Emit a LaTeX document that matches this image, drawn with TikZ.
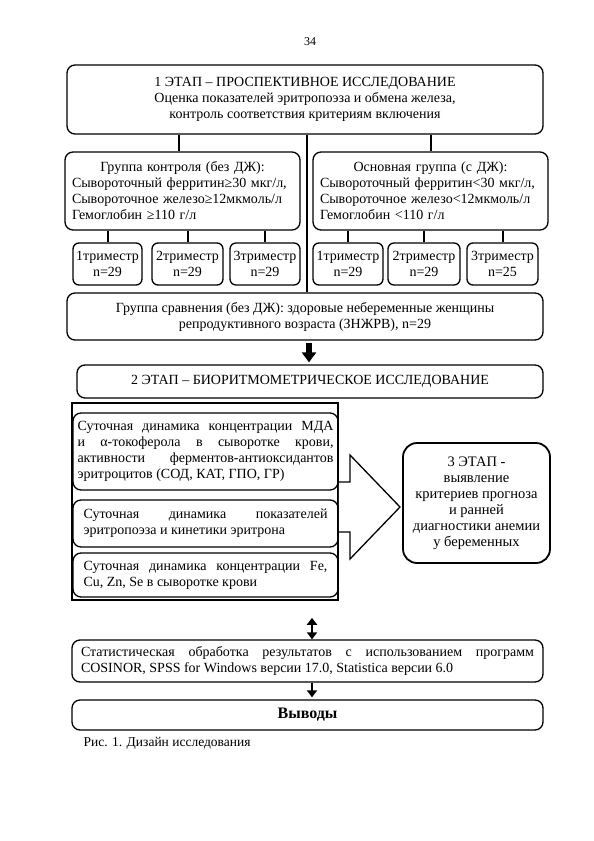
\documentclass[tikz,border=0pt]{standalone}
\usepackage{fontspec}
\setmainfont{Liberation Serif}
\usetikzlibrary{arrows.meta}
\hyphenpenalty=10000
\exhyphenpenalty=10000
\tolerance=10000

\tikzset{
  box/.style={draw, rounded corners=8pt, line width=1.3pt, inner sep=0pt, font=\fontsize{14}{16}\selectfont},
  tri/.style={box, rounded corners=6pt, align=center, minimum height=42},
  link/.style={line width=2pt},
  tip/.style={-{Triangle[width=10pt,length=7pt]}},
}

\begin{document}
\begin{tikzpicture}[x=1pt, y=-1pt]
  \useasboundingbox (0,0) rectangle (594,841);
  \node[font=\fontsize{12}{14}\selectfont] (pg) at (310,42) {34};

  % --- 1 этап ---
  \node[box, minimum width=476, minimum height=69, align=center] (st1) at (305,99.5)
    {1 ЭТАП – ПРОСПЕКТИВНОЕ ИССЛЕДОВАНИЕ\\Оценка показателей эритропоэза и обмена железа,\\контроль соответствия критериям включения};

  % --- группы ---
  \node[box, text width=221, inner xsep=7, minimum height=78, align=left] (ctrl) at (182.5,191)
    {\makebox[\linewidth]{Группа контроля (без ДЖ):}\\Сывороточный ферритин≥30 мкг/л,\\Сывороточное железо≥12мкмоль/л\\Гемоглобин ≥110 г/л};
  \node[box, text width=221, inner xsep=7, minimum height=78, align=left] (basic) at (430.5,191)
    {\makebox[\linewidth]{Основная группа (с ДЖ):}\\Сывороточный ферритин<30 мкг/л,\\Сывороточное железо<12мкмоль/л\\Гемоглобин <110 г/л};

  % --- триместры ---
  \node[tri, minimum width=69] (c1) at (107.5,264) {1триместр\\n=29};
  \node[tri, minimum width=71] (c2) at (187.5,264) {2триместр\\n=29};
  \node[tri, minimum width=70] (c3) at (265,264) {3триместр\\n=29};
  \node[tri, minimum width=70] (b1) at (348,264) {1триместр\\n=29};
  \node[tri, minimum width=72] (b2) at (424,264) {2триместр\\n=29};
  \node[tri, minimum width=71] (b3) at (502.5,264) {3триместр\\n=25};

  \node[box, minimum width=476, minimum height=47, align=center] (cmp) at (305,316.5)
    {Группа сравнения (без ДЖ): здоровые небеременные женщины\\репродуктивного возраста (ЗНЖРВ), n=29};

  \coordinate (mid) at (307,0);
  \draw[link] ([xshift=-4]st1.south -| ctrl.north) -- ([xshift=-4]ctrl.north);
  \draw[link] (st1.south -| mid) -- (cmp.north -| mid);
  \draw[link] (st1.south -| basic.north) -- (basic.north);
  \draw[link] (ctrl.south -| c1) -- (c1.north);
  \draw[link] (ctrl.south -| c2) -- (c2.north);
  \draw[link] (ctrl.south -| c3) -- (c3.north);
  \draw[link] (basic.south -| b1) -- (b1.north);
  \draw[link] (basic.south -| b2) -- (b2.north);
  \draw[link] (basic.south -| b3) -- (b3.north);

  % --- 2 этап ---
  \node[box, minimum width=466, minimum height=33] (st2) at (310,381.5)
    {2 ЭТАП – БИОРИТМОМЕТРИЧЕСКОЕ ИССЛЕДОВАНИЕ};
  \draw[line width=6pt, -{Triangle[width=14pt,length=10pt]}, shorten <=2pt, shorten >=2pt]
    ([xshift=2]cmp.south -| mid) -- ([xshift=2]st2.north -| mid);

  \node[draw, line width=1.6pt, minimum width=266, minimum height=197, inner sep=0pt] (frame) at (205,501.5) {};
  \node[box, rounded corners=14pt, line width=1.8pt, minimum width=147, minimum height=120, align=center,
        font=\fontsize{14.5}{16}\selectfont] (st3) at (476.5,503)
    {3 ЭТАП -\\выявление\\критериев прогноза\\и ранней\\диагностики анемии\\у беременных};
  \coordinate (tip) at (400,507);
  \draw[line width=1.3pt, fill=white] (frame.east |- 0,482) -- (350,482) -- (350,455) -- (tip)
    -- (350,559) -- (350,532) -- (frame.east |- 0,532);

  \node[box, text width=256, inner xsep=4.5, minimum height=77, align=justify] (m1) at (205.5,451.5)
    {Суточная динамика концентрации МДА\linebreak и α-токоферола в сыворотке крови,\linebreak активности ферментов-антиоксидантов\linebreak эритроцитов (СОД, КАТ, ГПО, ГР)};
  \node[box, text width=244, inner xsep=10.5, minimum height=47, align=justify] (m2) at (205.5,523.5)
    {Суточная динамика показателей\linebreak эритропоэза и кинетики эритрона};
  \node[box, text width=244, inner xsep=10.5, minimum height=44, align=justify] (m3) at (205.5,575)
    {Суточная динамика концентрации Fe,\linebreak Cu, Zn, Se в сыворотке крови};

  % --- обработка и выводы ---
  \node[box, text width=453, inner xsep=9, minimum height=42, align=justify] (stat) at (307.5,661)
    {Статистическая обработка результатов с использованием программ\linebreak COSINOR, SPSS for Windows версии 17.0, Statistica версии 6.0};
  \node[box, minimum width=471, minimum height=30, font=\fontsize{16}{18}\selectfont\bfseries] (concl) at (307.5,715) {Выводы};

  \coordinate (ax) at (312,0);
  \draw[line width=2.5pt, {Triangle[width=10pt,length=7pt]}-{Triangle[width=10pt,length=7pt]}, shorten <=17pt, shorten >=0pt]
    (frame.south -| ax) -- (stat.north -| ax);
  \draw[line width=2.5pt, tip, shorten >=2pt] (stat.south -| ax) -- (concl.north -| ax);

  \node[anchor=west, font=\fontsize{13.5}{15}\selectfont] (cap) at (80,743) {Рис. 1. Дизайн исследования};
\end{tikzpicture}
\end{document}
